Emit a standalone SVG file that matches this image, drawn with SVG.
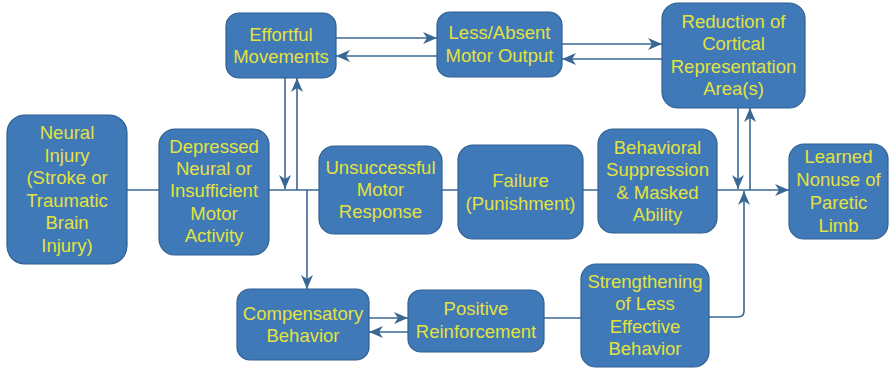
<svg xmlns="http://www.w3.org/2000/svg" width="889" height="368" viewBox="0 0 889 368">
<style>
.box{fill:#4079b7;stroke:#2f5f8f;stroke-width:1.2}
.t{font-family:"Liberation Sans",Arial,sans-serif;font-size:18.5px;fill:#e4e23e;text-anchor:middle}
.c{fill:none;stroke:#3a6895;stroke-width:1.6}
</style>
<defs>
<marker id="a" markerUnits="userSpaceOnUse" markerWidth="14" markerHeight="12" viewBox="0 0 14 12" refX="14" refY="6" orient="auto">
<path d="M0,0 L14,6 L0,12 L4,6 z" fill="#3a6895"/>
</marker>
</defs>
<rect width="889" height="368" fill="#fff"/>
<g id="connectors">
<path class="c" d="M127,190 H789" marker-end="url(#a)"/>
<path class="c" d="M285,78 V189" marker-end="url(#a)"/>
<path class="c" d="M297,190 V78" marker-end="url(#a)"/>
<path class="c" d="M307,190 V289" marker-end="url(#a)"/>
<path class="c" d="M336,38 H437" marker-end="url(#a)"/>
<path class="c" d="M437,56 H336" marker-end="url(#a)"/>
<path class="c" d="M562,44 H662" marker-end="url(#a)"/>
<path class="c" d="M662,59 H562" marker-end="url(#a)"/>
<path class="c" d="M738,108 V189" marker-end="url(#a)"/>
<path class="c" d="M750,190 V108" marker-end="url(#a)"/>
<path class="c" d="M709,317 H738 Q744,317 744,311 V191" marker-end="url(#a)"/>
<path class="c" d="M369,318 H408" marker-end="url(#a)"/>
<path class="c" d="M408,332 H369" marker-end="url(#a)"/>
<path class="c" d="M544,318 H581"/>
</g>
<g id="neural-injury">
<rect class="box" x="7" y="115" width="120" height="149" rx="18"/>
<text class="t" x="67" y="139">Neural<tspan x="67" dy="22.5">Injury</tspan><tspan x="67" dy="22.5">(Stroke or</tspan><tspan x="67" dy="22.5">Traumatic</tspan><tspan x="67" dy="22.5">Brain</tspan><tspan x="67" dy="22.5">Injury)</tspan></text>
</g>
<g id="depressed">
<rect class="box" x="159" y="129" width="110" height="126" rx="16"/>
<text class="t" x="214" y="153">Depressed<tspan x="214" dy="22.2">Neural or</tspan><tspan x="214" dy="22.2">Insufficient</tspan><tspan x="214" dy="22.2">Motor</tspan><tspan x="214" dy="22.2">Activity</tspan></text>
</g>
<g id="unsuccessful">
<rect class="box" x="319" y="146" width="123" height="88" rx="15"/>
<text class="t" x="380.5" y="174">Unsuccessful<tspan x="380.5" dy="22">Motor</tspan><tspan x="380.5" dy="22">Response</tspan></text>
</g>
<g id="failure">
<rect class="box" x="458" y="145" width="125" height="94" rx="15"/>
<text class="t" x="520.5" y="187">Failure<tspan x="520.5" dy="23">(Punishment)</tspan></text>
</g>
<g id="behavioral">
<rect class="box" x="598" y="129" width="119" height="104" rx="15"/>
<text class="t" x="657.5" y="154">Behavioral<tspan x="657.5" dy="22.3">Suppression</tspan><tspan x="657.5" dy="22.3">&amp; Masked</tspan><tspan x="657.5" dy="22.3">Ability</tspan></text>
</g>
<g id="learned-nonuse">
<rect class="box" x="789" y="144" width="99" height="95" rx="15"/>
<text class="t" x="838.5" y="163">Learned<tspan x="838.5" dy="23">Nonuse of</tspan><tspan x="838.5" dy="23">Paretic</tspan><tspan x="838.5" dy="23">Limb</tspan></text>
</g>
<g id="reduction">
<rect class="box" x="662" y="3" width="143" height="105" rx="16"/>
<text class="t" x="733.5" y="28">Reduction of<tspan x="733.5" dy="22.4">Cortical</tspan><tspan x="733.5" dy="22.4">Representation</tspan><tspan x="733.5" dy="22.4">Area(s)</tspan></text>
</g>
<g id="less-absent">
<rect class="box" x="437" y="12" width="125" height="65" rx="13"/>
<text class="t" x="499.5" y="39">Less/Absent<tspan x="499.5" dy="22.5">Motor Output</tspan></text>
</g>
<g id="effortful">
<rect class="box" x="226" y="13" width="110" height="65" rx="13"/>
<text class="t" x="281" y="41">Effortful<tspan x="281" dy="22">Movements</tspan></text>
</g>
<g id="compensatory">
<rect class="box" x="237" y="289" width="132" height="71" rx="13"/>
<text class="t" x="303" y="320">Compensatory<tspan x="303" dy="21.5">Behavior</tspan></text>
</g>
<g id="positive">
<rect class="box" x="408" y="290" width="136" height="62" rx="13"/>
<text class="t" x="476" y="315">Positive<tspan x="476" dy="23">Reinforcement</tspan></text>
</g>
<g id="strengthening">
<rect class="box" x="581" y="264" width="128" height="103" rx="15"/>
<text class="t" x="645" y="288">Strengthening<tspan x="645" dy="22.4">of Less</tspan><tspan x="645" dy="22.4">Effective</tspan><tspan x="645" dy="22.4">Behavior</tspan></text>
</g>
</svg>
